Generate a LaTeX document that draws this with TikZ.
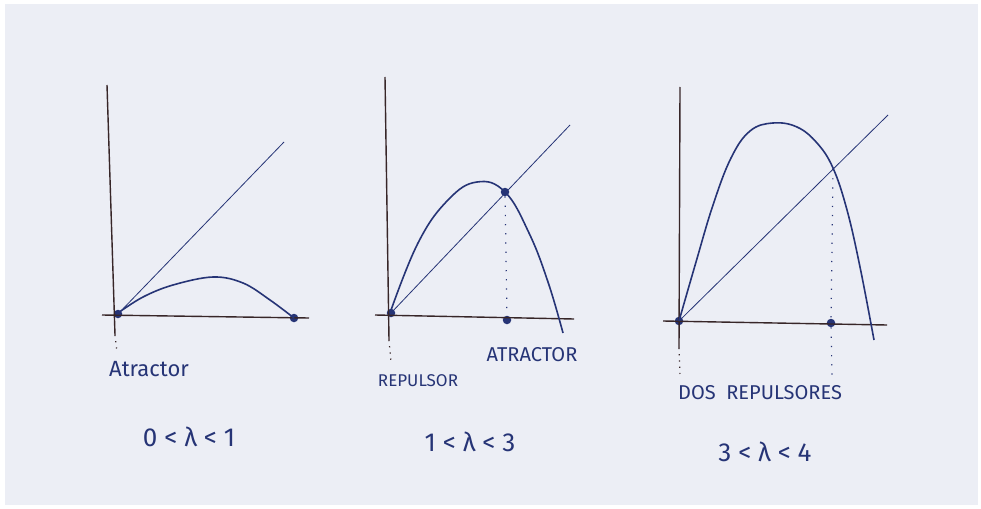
\documentclass[tikz,border=0pt]{standalone}
\usepackage{fontspec}
\setmainfont{Fira Sans}
\begin{document}
\begin{tikzpicture}[x=1pt,y=-1pt,
  axis/.style={draw=axiscol,line width=1.4pt},
  diag/.style={draw=inkblue,line width=0.8pt},
  curve/.style={draw=inkblue,line width=1.6pt},
  dotted line/.style={draw=inkblue,line width=1.2pt,dash pattern=on 1.2pt off 8pt},
  dotaxis/.style={draw=axiscol,line width=1.2pt,dash pattern=on 1.2pt off 5pt},
  fixdot/.style={circle,fill=inkblue,inner sep=0pt,minimum size=8.5pt},
  lbl/.style={text=inkblue,font=\fontsize{22}{26}\selectfont,inner sep=0pt},
  lamlbl/.style={text=inkblue,font=\fontsize{26}{30}\selectfont,inner sep=0pt}]
\definecolor{axiscol}{RGB}{55,38,40}
\definecolor{inkblue}{RGB}{38,52,118}
\definecolor{paper}{RGB}{236,238,245}
\fill[white] (0,0) rectangle (981,508);
\fill[paper] (5,4) rectangle (978,505);
\useasboundingbox (0,0) rectangle (981,508);

% ---------- Panel 1 ----------
\coordinate (a1t) at (107,85);
\coordinate (a1b) at (115,335);
\coordinate (a1d) at (117,352);
\coordinate (h1l) at (102,315);
\coordinate (h1r) at (309,318);
\coordinate (g1) at (284,142);
\node[fixdot] (o1) at (118,314) {};
\node[fixdot] (e1) at (294,318) {};
\draw[axis] (a1t) -- (a1b);
\draw[dotaxis] (a1b) -- (a1d);
\draw[axis] (h1l) -- (h1r);
\draw[diag] (o1.center) -- (g1);
\draw[curve] plot[smooth,tension=0.6] coordinates {(118,313) (143,297) (173,285) (213,277) (243,283) (270,300) (294,318)};
\node[lbl,font=\fontsize{22}{26}\selectfont] (t1) at (149,369) {Atractor};
\node[lamlbl] (l1) at (189,437) {0 < λ < 1};

% ---------- Panel 2 ----------
\coordinate (a2t) at (385,77);
\coordinate (a2b) at (389,340);
\coordinate (a2d) at (391,362);
\coordinate (h2l) at (375,315);
\coordinate (h2r) at (574,319);
\coordinate (g2) at (570,125);
\node[fixdot] (o2) at (391,313) {};
\node[fixdot] (f2) at (505,192) {};
\node[fixdot] (x2) at (507,320) {};
\draw[axis] (a2t) -- (a2b);
\draw[dotaxis] (a2b) -- (a2d);
\draw[axis] (h2l) -- (h2r);
\draw[diag] (o2.center) -- (g2);
\draw[curve] plot[smooth,tension=0.7] coordinates {(390,313) (418,243) (448,200) (477,182) (505,192) (529,233) (548,282) (563,333)};
\draw[dotted line] (f2) -- (x2);
\node[lbl,font=\fontsize{17}{20}\selectfont] (t2) at (418,381) {REPULSOR};
\node[lbl,font=\fontsize{20}{24}\selectfont] (t3) at (532,355) {ATRACTOR};
\node[lamlbl] (l2) at (470,442) {1 < λ < 3};

% ---------- Panel 3 ----------
\coordinate (a3t) at (680,87);
\coordinate (a3b) at (679,348);
\coordinate (a3d) at (680,377);
\coordinate (h3l) at (663,321);
\coordinate (h3r) at (887,325);
\coordinate (g3) at (888,115);
\coordinate (c3) at (833,169);
\coordinate (c3d) at (832,377);
\node[fixdot] (o3) at (679,321) {};
\node[fixdot] (x3) at (831,323) {};
\draw[axis] (a3t) -- (a3b);
\draw[dotaxis] (a3b) -- (a3d);
\draw[axis] (h3l) -- (h3r);
\draw[diag] (o3.center) -- (g3);
\draw[curve] plot[smooth,tension=0.65] coordinates {(679,321) (696,262) (713,205) (731,158) (750,131) (773,123) (797,127) (817,143) (833,168) (847,210) (860,267) (874,340)};
\draw[dotted line] (c3) -- (x3);
\draw[dotted line] (x3) -- (c3d);
\node[lbl,font=\fontsize{20}{24}\selectfont] (t4) at (760,393) {DOS\ \ REPULSORES};
\node[lamlbl] (l3) at (765,452) {3 < λ < 4};
\end{tikzpicture}
\end{document}
